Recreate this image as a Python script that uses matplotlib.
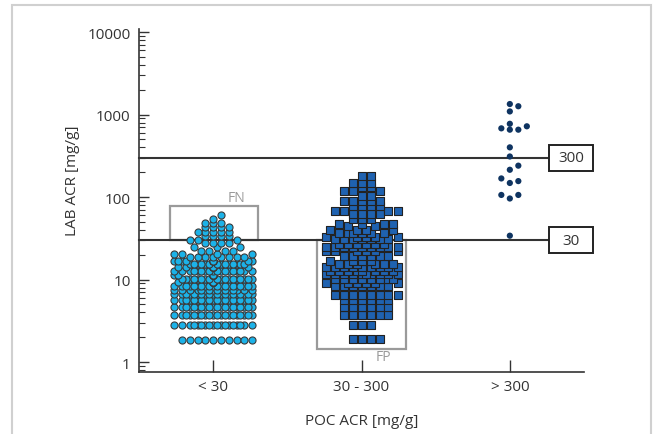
import numpy as np
import matplotlib
matplotlib.use("Agg")
import matplotlib.pyplot as plt
import matplotlib.patches as mpatches
import matplotlib.transforms as mtransforms
from matplotlib.ticker import FixedLocator, NullFormatter, LogLocator

plt.rcParams['font.family'] = ['Open Sans', 'DejaVu Sans']

# ---------------- data ----------------
categories = ["< 30", "30 - 300", "> 300"]

# POC < 30 : LAB ACR values (row value, number of samples)
lt30_values = [60, 54, 48, 43, 38, 34, 30.5, 27.5, 24.5, 22.3, 20.3, 19, 17, 15.5,
               14, 12.8, 11.2, 10.2, 9.3, 8.4, 7.4, 6.6, 5.6, 4.6, 3.7, 2.8, 1.86]
lt30_counts = [1, 1, 3, 4, 5, 4, 3, 4, 3, 4, 4, 8, 12, 14,
               14, 18, 16, 18, 18, 20, 16, 20, 20, 20, 20, 18, 10]

# POC 30-300
mid_values = [178, 150, 131, 117, 104, 90, 78, 68, 62, 54, 47, 44, 40, 37, 33, 31,
              27, 25, 22, 19.5, 17, 15.5, 14, 12.7, 11.7, 10.1, 9.2, 8.4,
              6.5, 5.6, 4.6, 3.7, 2.8, 1.9]
mid_counts = [2, 3, 2, 3, 2, 5, 4, 4, 4, 3, 4, 2, 4, 6, 5, 7,
              6, 9, 6, 6, 5, 6, 10, 8, 10, 10, 6, 7,
              8, 6, 6, 6, 3, 4]

# POC > 300
gt300_values = [1340, 1260, 1090, 772, 720, 680, 655, 655, 400, 310, 240, 214,
                168, 156, 148, 106, 106, 96, 34]

y_ticks = [1, 10, 100, 1000, 10000]
y_ticklabels = ["1", "10", "100", "1000", "10000"]
cutoffs = [30, 300]
cutoff_labels = ["30", "300"]

# ---------------- figure ----------------
W, H = 654, 435
fig = plt.figure(figsize=(W / 100, H / 100), dpi=100)
ax = fig.add_axes([139 / W, 1 - 373 / H, (584 - 139) / W, (373 - 29.6) / H])
ax.set_yscale('log')
ax.set_ylim(0.7575, 11000)
ax.set_xlim(-0.5, 2.5)

px_per_unit = (584 - 139) / 3.0
px_per_decade = 82.5


def swarm(values, center, d, width, dy_min):
    """Column-style swarm in pixel space with a maximum width; overflow overlaps."""
    vals = np.sort(np.asarray(values, dtype=float))
    ypx = np.log10(vals) * px_per_decade
    step = d / 2.0
    K = int(np.floor((width / 2.0) / step))
    cands = np.arange(-K, K + 1) * step
    cands = cands[np.argsort(np.abs(cands) + 1e-6 * (cands < 0))]
    px, py = [], []
    for y in ypx:
        c = 0.0
        if px:
            P = np.array(px)
            Q = np.array(py)
            m = np.abs(Q - y) < dy_min
            if m.any():
                mindx = np.abs(cands[:, None] - P[m][None, :]).min(axis=1)
                ok = np.where(mindx >= d * 0.98)[0]
                c = cands[ok[0]] if len(ok) else cands[np.argmax(mindx)]
        px.append(c)
        py.append(y)
    return center + np.array(px) / px_per_unit, vals


v1 = np.repeat(lt30_values, lt30_counts)
v2 = np.repeat(mid_values, mid_counts)
x1, y1 = swarm(v1, 0, 7.8, 78, 3.8)
x2, y2 = swarm(v2, 1, 9.0, 74, 4.4)
x3, y3 = swarm(gt300_values, 2, 8.5, 40, 5.5)

ax.scatter(x1, y1, s=26, marker='o', facecolor='#1cb2e8', edgecolor='#3a3a3a',
           linewidth=0.8, zorder=3)
ax.scatter(x2, y2, s=34, marker='s', facecolor='#1f62b0', edgecolor='#222222',
           linewidth=0.8, zorder=3)
ax.scatter(x3, y3, s=20, marker='o', facecolor='#0f3461', edgecolor='none', zorder=3)

# cutoff lines with boxed labels
x_line_end = (549 - 361) / px_per_unit + 1
x_box_c = (571 - 361) / px_per_unit + 1
for c, lab in zip(cutoffs, cutoff_labels):
    ax.plot([-0.5, x_line_end], [c, c], color='#333333', lw=1.5, zorder=2,
            clip_on=False)
    tr = fig.dpi_scale_trans + mtransforms.ScaledTranslation(x_box_c, c, ax.transData)
    rect = mpatches.Rectangle((-0.22, -0.13), 0.44, 0.26, transform=tr,
                              facecolor='white', edgecolor='#222222', lw=1.4,
                              clip_on=False, zorder=4)
    ax.add_patch(rect)
    ax.text(x_box_c, c, lab, ha='center', va='center', fontsize=11,
            color='#333333', zorder=6, clip_on=False)

# FN / FP boxes
ax.add_patch(mpatches.Rectangle((-0.29, 30), 0.59, 78 - 30, fill=False,
                                edgecolor='#9a9a9a', lw=1.6, zorder=1))
ax.text(0.155, 80, "FN", ha='center', va='bottom', fontsize=10, color='#9a9a9a')
ax.add_patch(mpatches.Rectangle((1 - 0.30, 1.45), 0.597, 30 - 1.45, fill=False,
                                edgecolor='#9a9a9a', lw=1.6, zorder=1))
ax.text(1.15, 1.42, "FP", ha='center', va='top', fontsize=10, color='#9a9a9a')

# axes styling
for s in ['top', 'right']:
    ax.spines[s].set_visible(False)
for s in ['left', 'bottom']:
    ax.spines[s].set_color('#333333')
    ax.spines[s].set_linewidth(1.2)

ax.yaxis.set_major_locator(FixedLocator(y_ticks))
ax.set_yticklabels(y_ticklabels)
ax.yaxis.set_minor_locator(LogLocator(base=10, subs=np.arange(2, 10)))
ax.yaxis.set_minor_formatter(NullFormatter())
ax.set_xticks(range(len(categories)))
ax.set_xticklabels(categories)

ax.tick_params(axis='y', which='major', direction='in', length=7, width=1,
               color='#333333', labelsize=11, labelcolor='#333333', pad=6)
ax.tick_params(axis='y', which='minor', direction='in', length=4, width=0.8,
               color='#333333')
ax.tick_params(axis='x', which='major', direction='in', length=9, width=1,
               color='#333333', labelsize=11, labelcolor='#333333', pad=5)

ax.set_ylabel("LAB ACR [mg/g]", fontsize=11, color='#333333')
ax.yaxis.set_label_coords(-0.133, 0.56)
ax.set_xlabel("POC ACR [mg/g]", fontsize=11, color='#333333', labelpad=14)

# light frame around the figure
frame = mpatches.Rectangle((12 / W, -0.1), (651 - 12) / W, 1.1 - 6 / H,
                           transform=fig.transFigure, fill=False,
                           edgecolor='#d0d0d0', lw=1.5)
fig.add_artist(frame)

fig.savefig("out.png", dpi=100)
